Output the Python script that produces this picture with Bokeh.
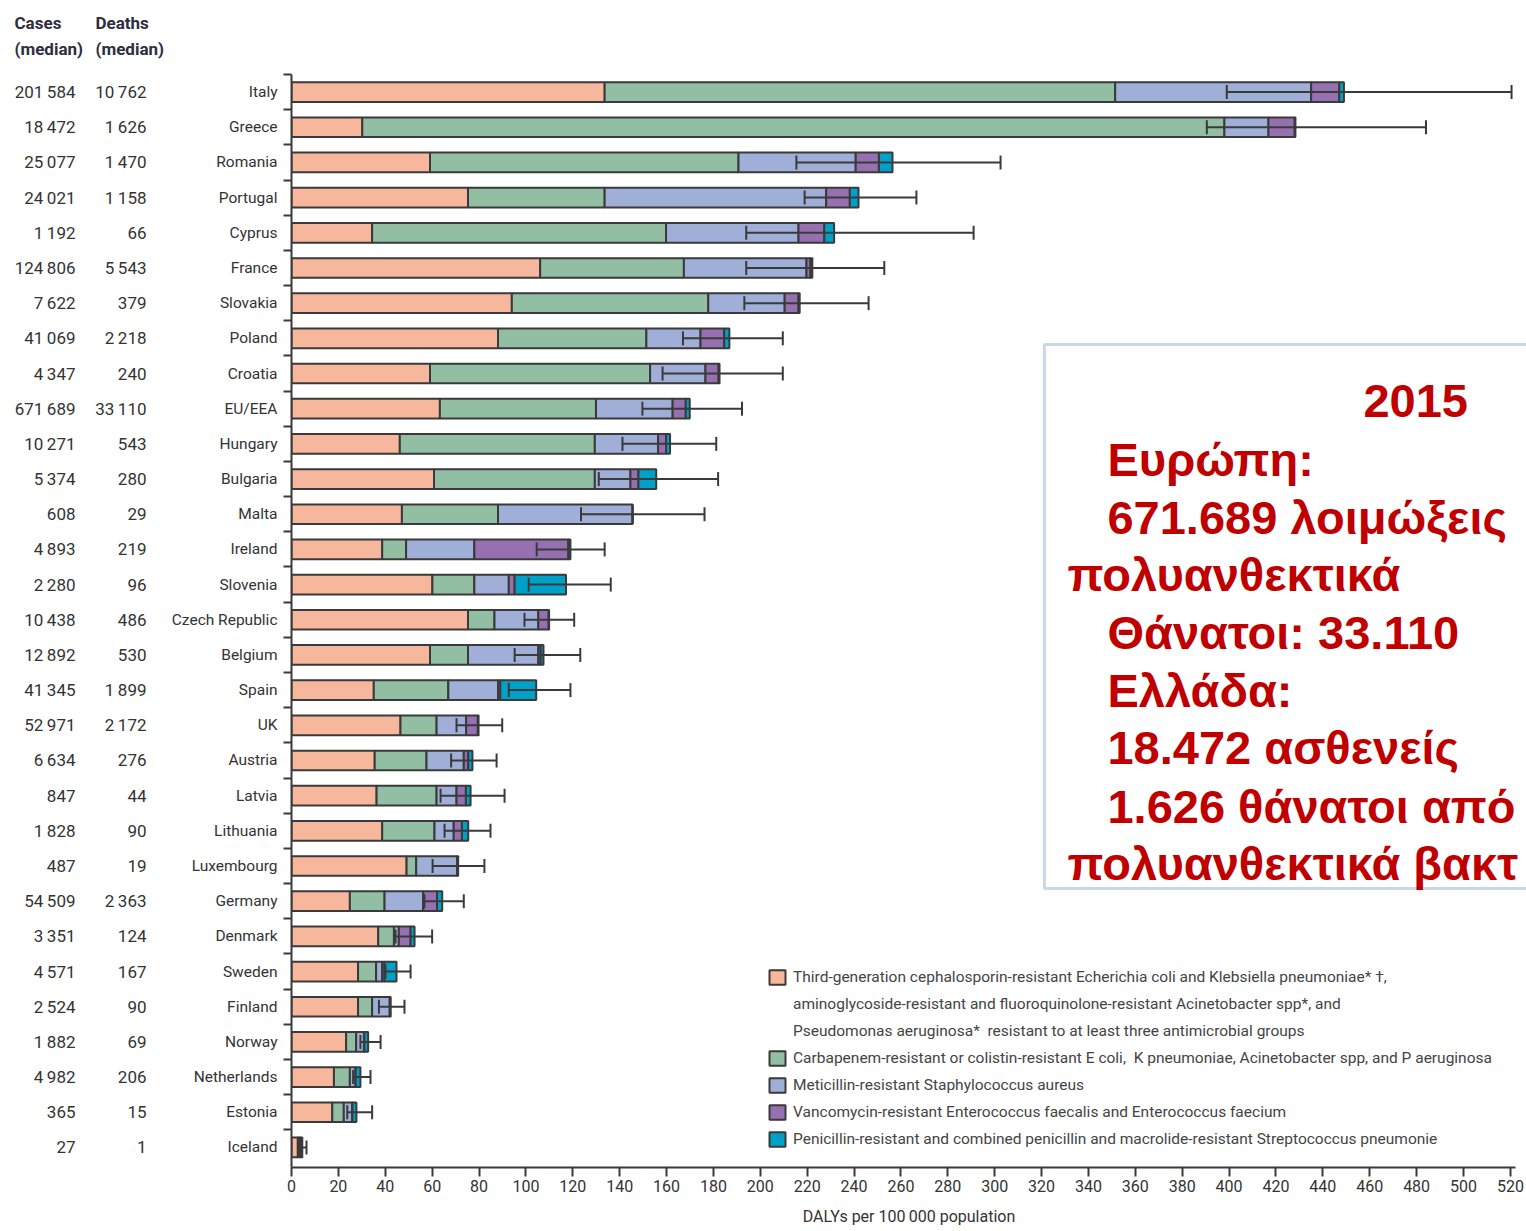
from bokeh.plotting import figure
from bokeh.layouts import row
from bokeh.models import (Range1d, FixedTicker, ColumnDataSource, Whisker, TeeHead,
                          Legend, LegendItem, Label, BoxAnnotation)
from bokeh.embed import file_html
from bokeh.resources import INLINE
from bokeh.core.properties import value

# ---------------- data ----------------
countries = ["Italy", "Greece", "Romania", "Portugal", "Cyprus", "France", "Slovakia",
             "Poland", "Croatia", "EU/EEA", "Hungary", "Bulgaria", "Malta", "Ireland",
             "Slovenia", "Czech Republic", "Belgium", "Spain", "UK", "Austria", "Latvia",
             "Lithuania", "Luxembourg", "Germany", "Denmark", "Sweden", "Finland",
             "Norway", "Netherlands", "Estonia", "Iceland"]
cases = [201584, 18472, 25077, 24021, 1192, 124806, 7622, 41069, 4347, 671689, 10271,
         5374, 608, 4893, 2280, 10438, 12892, 41345, 52971, 6634, 847, 1828, 487,
         54509, 3351, 4571, 2524, 1882, 4982, 365, 27]
deaths = [10762, 1626, 1470, 1158, 66, 5543, 379, 2218, 240, 33110, 543, 280, 29, 219,
          96, 486, 530, 1899, 2172, 276, 44, 90, 19, 2363, 124, 167, 90, 69, 206, 15, 1]

# DALYs per 100 000 population by pathogen group
third_gen = [133.6, 30.2, 59.1, 75.3, 34.4, 106.1, 94.0, 88.1, 59.1, 63.3, 46.2, 60.8,
             47.1, 38.7, 60.1, 75.3, 59.1, 35.1, 46.5, 35.5, 36.3, 38.7, 49.1, 24.9,
             37.0, 28.4, 28.4, 23.3, 18.1, 17.4, 2.7]
carbapenem = [217.8, 367.8, 131.6, 58.3, 125.4, 61.3, 83.8, 63.3, 93.9, 66.6, 83.2, 68.6,
              41.0, 10.2, 17.9, 11.3, 16.2, 31.8, 15.4, 22.1, 25.6, 22.3, 4.1, 14.8,
              6.7, 7.7, 6.0, 4.3, 6.8, 4.9, 0.5]
mrsa = [83.6, 18.8, 50.0, 94.5, 56.5, 52.3, 32.6, 23.1, 23.6, 32.7, 27.0, 15.2, 57.4,
        29.1, 14.7, 18.7, 30.0, 21.2, 12.6, 15.9, 8.5, 8.2, 17.5, 16.5, 2.1, 2.6, 7.5,
        3.3, 2.4, 3.6, 0.5]
vre = [12.0, 11.2, 9.9, 10.1, 11.0, 1.7, 5.9, 10.1, 5.6, 5.6, 3.4, 3.4, 0.0, 40.1, 2.5,
       4.4, 1.0, 1.0, 5.0, 1.9, 4.0, 3.5, 0.2, 5.9, 5.0, 1.0, 0.2, 0.2, 0.1, 0.1, 0.1]
pnsp = [2.0, 0.3, 5.8, 3.7, 4.2, 0.8, 0.5, 2.2, 0.4, 1.7, 1.7, 7.6, 0.0, 0.9, 21.9, 0.2,
        1.2, 15.3, 0.3, 1.8, 2.0, 2.7, 0.2, 2.2, 1.7, 5.1, 0.2, 1.6, 2.0, 1.7, 0.8]
err_low = [399.0, 390.5, 215.4, 218.9, 194.0, 194.0, 193.2, 167.0, 158.3, 149.7, 141.2,
           131.1, 123.5, 104.6, 101.2, 99.4, 95.2, 92.7, 70.4, 68.1, 63.6, 65.3, 60.2,
           56.7, 44.4, 40.1, 37.3, 29.4, 26.3, 23.8, 3.1]
err_high = [520.5, 484.0, 302.5, 266.6, 291.0, 252.9, 246.2, 209.6, 209.6, 192.2, 181.2,
            182.0, 176.2, 133.6, 136.2, 120.6, 123.2, 119.0, 89.9, 87.5, 90.9, 84.9, 82.3,
            73.5, 60.0, 50.8, 48.2, 38.0, 33.7, 34.4, 6.4]
x_ticks = list(range(0, 521, 20))

legend_labels = [
    "Carbapenem-resistant or colistin-resistant E coli,  K pneumoniae, Acinetobacter spp, and P aeruginosa",
    "Meticillin-resistant Staphylococcus aureus",
    "Vancomycin-resistant Enterococcus faecalis and Enterococcus faecium",
    "Penicillin-resistant and combined penicillin and macrolide-resistant Streptococcus pneumonie",
]
legend_first = [
    "Third-generation cephalosporin-resistant Echerichia coli and Klebsiella pneumoniae* \u2020,",
    "aminoglycoside-resistant and fluoroquinolone-resistant Acinetobacter spp*, and",
    "Pseudomonas aeruginosa*  resistant to at least three antimicrobial groups",
]
header_top = ["Cases", "Deaths"]
header_sub = ["(median)", "(median)"]
box_lines = ["2015", "Ευρώπη:", "671.689 λοιμώξεις", "πολυανθεκτικά", "Θάνατοι: 33.110",
             "Ελλάδα:", "18.472 ασθενείς", "1.626 θάνατοι από", "πολυανθεκτικά βακτ"]

# ---------------- styling ----------------
FONT = "Roboto"
colors = ["#F7B79C", "#92BFA3", "#A0AFD8", "#9670B0", "#00A1C8"]
INK = "#3a3a3a"
TXT = "#333333"
HDR = "#2e2e40"

def fmt(n):
    return f"{n:,}".replace(",", "\u2009")

n = len(countries)
ys = list(range(n))
source = ColumnDataSource(dict(
    y=ys, country=countries, third_gen=third_gen, carbapenem=carbapenem, mrsa=mrsa,
    vre=vre, pnsp=pnsp, lo=err_low, hi=err_high,
    cases=[fmt(c) for c in cases], deaths=[fmt(d) for d in deaths]))

H = 1229
BOTTOM = 62
ROW_PX = 35.18
Y_BOTTOM = 30.57
Y_FIRST = -0.5                      # top edge of the bar area
Y_TOP = Y_FIRST - 74 / ROW_PX       # frame reaches the top of the canvas


def table_column(width, field, x_right, x_head, idx):
    f = figure(width=width, height=H, x_range=Range1d(0, width),
               y_range=Range1d(Y_BOTTOM, Y_TOP),
               output_backend="svg", toolbar_location=None,
               x_axis_location=None, y_axis_location=None,
               min_border_left=0, min_border_right=0, min_border_top=0,
               min_border_bottom=BOTTOM)
    f.outline_line_color = None
    f.xgrid.visible = False
    f.ygrid.visible = False
    f.text(x=x_right, y="y", text=field, source=source, text_align="right",
           text_baseline="middle", text_font=value(FONT), text_font_size="17px",
           text_color=TXT)
    f.text(x=[x_head, x_head], y=[Y_FIRST - 1.478, Y_FIRST - 0.739],
           text=[header_top[idx], header_sub[idx]], text_align="left",
           text_baseline="middle", text_font=value(FONT), text_font_size="17px",
           text_font_style="bold", text_color=HDR)
    return f


W_CASES, W_DEATHS = 88, 80
lt_cases = table_column(W_CASES, "cases", 75, 14, 0)
lt_deaths = table_column(W_DEATHS, "deaths", 146 - W_CASES, 95 - W_CASES, 1)

# ---------- main chart ----------
LEFT_W = W_CASES + W_DEATHS
MW = 1526 - LEFT_W
ML = 291 - LEFT_W
frame_w = MW - ML
p = figure(width=MW, height=H, x_range=Range1d(0, frame_w / 2.344),
           y_range=Range1d(Y_BOTTOM, Y_TOP),
           output_backend="svg", toolbar_location=None,
           min_border_left=ML, min_border_right=0, min_border_top=0,
           min_border_bottom=BOTTOM)
p.outline_line_color = None
p.xgrid.visible = False
p.ygrid.visible = False

stack = ["third_gen", "carbapenem", "mrsa", "vre", "pnsp"]
renderers = p.hbar_stack(stack, y="y", height=0.56, color=colors, source=source,
                         line_color=INK, line_width=2)
blank = p.hbar(y=[], right=[], height=0.5, fill_alpha=0, line_alpha=0)

whisk = Whisker(source=source, base="y", lower="lo", upper="hi", dimension="width",
                line_color=INK, line_width=2, level="overlay",
                lower_head=TeeHead(size=14, line_color=INK, line_width=2),
                upper_head=TeeHead(size=14, line_color=INK, line_width=2))
p.add_layout(whisk)

xa = p.xaxis[0]
xa.ticker = FixedTicker(ticks=x_ticks)
xa.bounds = (0, 522)
xa.axis_line_color = INK
xa.axis_line_width = 2
xa.major_tick_line_color = INK
xa.major_tick_line_width = 2
xa.major_tick_out = 9
xa.major_tick_in = 0
xa.minor_tick_line_color = None
xa.major_label_text_font = FONT
xa.major_label_text_font_size = "16px"
xa.major_label_text_color = TXT
xa.major_label_standoff = 3
xa.axis_label = "DALYs per 100\u2009000 population"
xa.axis_label_text_font = FONT
xa.axis_label_text_font_size = "16px"
xa.axis_label_text_font_style = "normal"
xa.axis_label_text_color = TXT
xa.axis_label_standoff = 12

ya = p.yaxis[0]
ya.ticker = FixedTicker(ticks=ys, minor_ticks=[k - 0.5 for k in ys])
ya.bounds = (Y_FIRST, Y_BOTTOM)
ya.major_label_overrides = {i: c for i, c in enumerate(countries)}
ya.axis_line_color = INK
ya.axis_line_width = 2
ya.major_tick_line_color = None
ya.major_tick_out = 0
ya.major_tick_in = 0
ya.minor_tick_line_color = INK
ya.minor_tick_line_width = 2
ya.minor_tick_out = 8
ya.minor_tick_in = 0
ya.major_label_text_font = FONT
ya.major_label_text_font_size = "15.5px"
ya.major_label_text_color = TXT
ya.major_label_standoff = 6

items = [LegendItem(label=legend_first[0], renderers=[renderers[0]]),
         LegendItem(label=legend_first[1], renderers=[blank]),
         LegendItem(label=legend_first[2], renderers=[blank])]
items += [LegendItem(label=lab, renderers=[r]) for lab, r in zip(legend_labels, renderers[1:])]
legend = Legend(items=items, location=(476, 19), orientation="vertical",
                background_fill_alpha=0, border_line_color=None,
                padding=0, margin=0, spacing=8, glyph_width=20, glyph_height=18,
                label_height=19, label_standoff=6, label_text_font=FONT,
                label_text_font_size="15.5px", label_text_color="#444444")
p.add_layout(legend)

p.add_layout(BoxAnnotation(left=321.2, right=600, top=7.175, bottom=22.64,
                           fill_color="white", fill_alpha=1.0,
                           line_color="#4A7EBB", line_width=3, level="overlay"))
box_x = [457.3, 348.1, 348.1, 331.1, 348.1, 348.1, 348.1, 348.1, 331.1]
box_y = [8.795, 10.44, 12.09, 13.71, 15.36, 17.01, 18.63, 20.31, 21.93]
for txt, bx, by in zip(box_lines, box_x, box_y):
    p.add_layout(Label(x=bx, y=by, text=txt, text_align="left", text_baseline="alphabetic",
                       text_font="Liberation Sans", text_font_size="47px",
                       text_font_style="bold", text_color="#C00000", level="overlay"))

layout = row(lt_cases, lt_deaths, p, spacing=0)
open("out.html", "w").write(file_html(layout, INLINE))
